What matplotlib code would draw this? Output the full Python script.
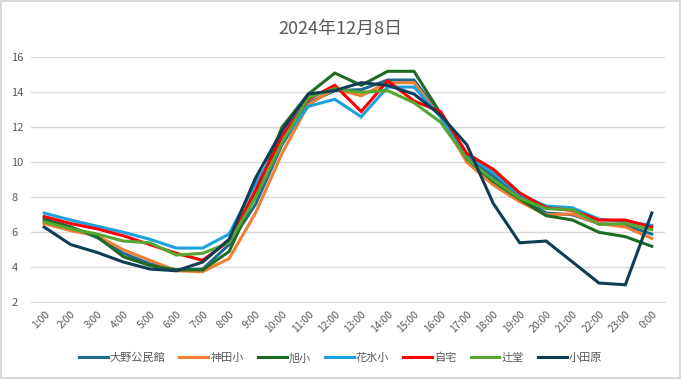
"""
line chart of hourly readings at seven sites, 2024-12-08
"""

import matplotlib
matplotlib.use("Agg")
import matplotlib.pyplot as plt
import numpy as np

plt.rcParams['font.family'] = ['Noto Sans CJK JP', 'DejaVu Sans']

hours = [f"{h}:00" for h in range(1, 24)] + ["0:00"]

ono = [6.8, 6.3, 5.7, 4.8, 4.2, 3.85, 3.9, 5.3, 7.6, 11.0, 13.4, 14.1,
       14.15, 14.7, 14.7, 12.7, 10.3, 9.2, 8.05, 7.1, 7.0, 6.5, 6.4, 5.9]
kanda = [6.5, 6.1, 5.8, 5.0, 4.4, 3.8, 3.75, 4.5, 7.1, 10.5, 13.3, 14.2,
         13.8, 14.55, 14.55, 12.6, 10.0, 8.7, 7.75, 7.0, 7.05, 6.5, 6.3, 5.65]
asahi = [6.7, 6.3, 5.75, 4.6, 4.1, 3.85, 3.85, 4.9, 8.2, 12.0, 13.9, 15.1,
         14.4, 15.2, 15.2, 12.8, 10.2, 8.9, 7.9, 6.95, 6.7, 6.0, 5.75, 5.2]
hanamizu = [7.1, 6.7, 6.35, 6.0, 5.6, 5.1, 5.1, 5.9, 8.8, 11.2, 13.2, 13.6,
            12.6, 14.3, 14.3, 12.6, 10.4, 9.4, 8.15, 7.5, 7.4, 6.75, 6.6, 6.4]
jitaku = [6.9, 6.5, 6.2, 5.8, 5.3, 4.8, 4.4, 5.5, 8.4, 11.5, 13.6, 14.4,
          12.9, 14.65, 13.5, 12.9, 10.5, 9.6, 8.25, 7.4, 7.25, 6.7, 6.7, 6.3]
tsujido = [6.6, 6.2, 5.9, 5.5, 5.4, 4.7, 4.8, 5.4, 8.0, 11.1, 13.7, 14.2,
           14.0, 14.1, 13.4, 12.3, 10.2, 9.0, 7.95, 7.35, 7.3, 6.45, 6.5, 6.15]
odawara = [6.3, 5.3, 4.85, 4.3, 3.9, 3.8, 4.3, 5.6, 9.1, 11.8, 13.9, 14.1,
           14.55, 14.4, 13.9, 12.7, 11.0, 7.65, 5.4, 5.5, 4.3, 3.1, 3.0, 7.1]

names = ['大野公民館', '神田小', '旭小', '花水小', '自宅', '辻堂', '小田原']
series = [ono, kanda, asahi, hanamizu, jitaku, tsujido, odawara]
colors = ['#1F6A91', '#F07F34', '#1E6B24', '#1BA1DF', '#FF0000', '#54A832', '#0F3D55']

fig = plt.figure(figsize=(6.81, 3.79), dpi=100)
fig.patch.set_edgecolor('#D9D9D9')
fig.patch.set_linewidth(1.5)
ax = fig.add_axes([0.0455, 0.2024, 0.931, 0.6464])

x = np.arange(len(hours))
for name, vals, c in zip(names, series, colors):
    ax.plot(x, vals, color=c, linewidth=2.2, label=name, solid_joinstyle='miter')

ax.set_xlim(-0.5, len(hours) - 0.5)
ax.set_ylim(2, 16)
ax.set_yticks(range(2, 17, 2))
ax.set_xticks(x)
ax.set_xticklabels(hours, rotation=45, ha='right', rotation_mode='anchor',
                   fontsize=7.5, color='#595959')
ax.tick_params(axis='y', labelsize=8, colors='#595959', length=0, pad=14)
ax.tick_params(axis='x', length=0, pad=5)
for lbl in ax.get_yticklabels():
    lbl.set_horizontalalignment('left')

ax.grid(axis='y', color='#D9D9D9', linewidth=1)
ax.set_axisbelow(True)
for side in ['left', 'right', 'top']:
    ax.spines[side].set_visible(False)
ax.spines['bottom'].set_color('#D9D9D9')

fig.text(0.5, 0.925, '2024年12月8日', ha='center', va='center',
         fontsize=13, color='#595959')

fig.legend(loc='center', bbox_to_anchor=(0.5, 0.055), ncol=7, frameon=False,
           fontsize=8, labelcolor='#595959', handlelength=2.6, handletextpad=0.2,
           columnspacing=1.25)

plt.savefig('out.png', dpi=100, edgecolor=fig.get_edgecolor())
